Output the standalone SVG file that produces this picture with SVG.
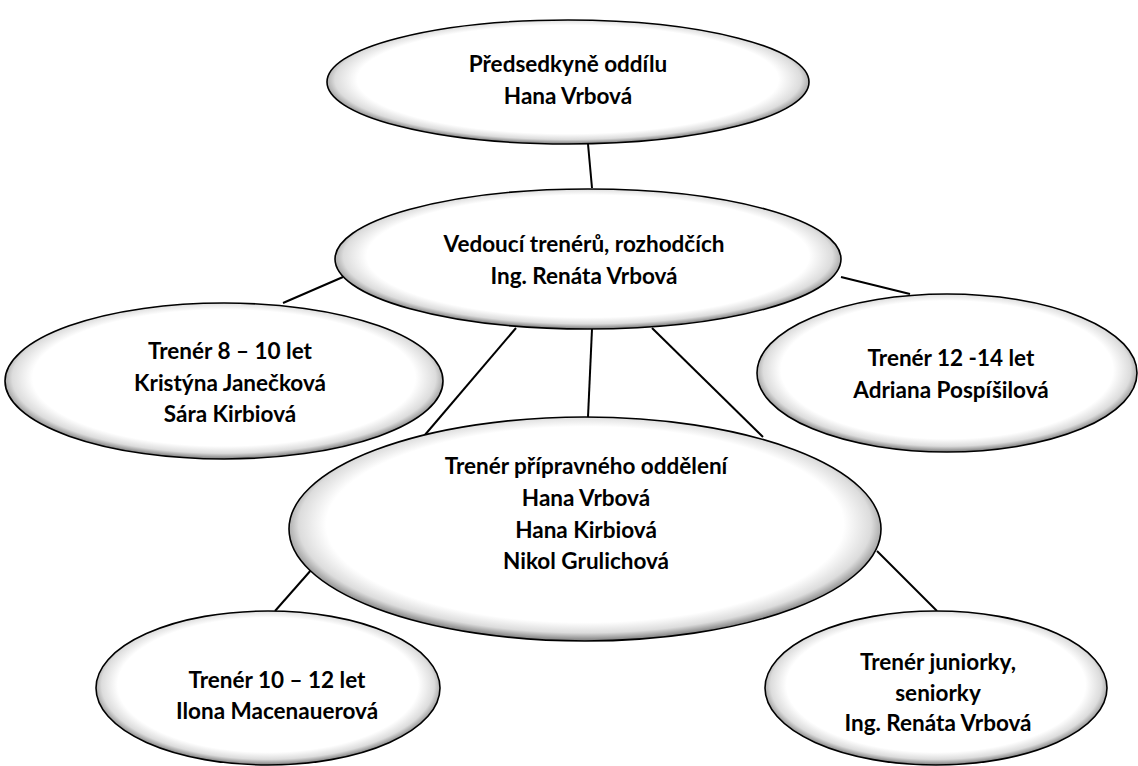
<svg xmlns="http://www.w3.org/2000/svg" width="1138" height="766" viewBox="0 0 1138 766">
<defs>
<radialGradient id="g" cx="50%" cy="48%" r="52%">
<stop offset="0" stop-color="#ffffff"/>
<stop offset="0.84" stop-color="#ffffff"/>
<stop offset="0.93" stop-color="#dcdcdc"/>
<stop offset="1" stop-color="#7a7a7a"/>
</radialGradient>
</defs>
<style>
.e{fill:url(#g);stroke:#000;stroke-width:1.6}
.c line{stroke:#000;stroke-width:2}
text{font-family:Lato,"Open Sans","Liberation Sans",sans-serif;font-weight:700;font-size:22.5px;fill:#000;text-anchor:middle}
</style>
<rect width="1138" height="766" fill="#fff"/>
<g id="connectors" class="c">
<line x1="588" y1="144" x2="592" y2="188"/>
<line x1="283" y1="303" x2="343" y2="277"/>
<line x1="841" y1="277" x2="910" y2="294"/>
<line x1="516" y1="328" x2="424" y2="436"/>
<line x1="592" y1="329" x2="588" y2="417"/>
<line x1="652" y1="328" x2="763" y2="437"/>
<line x1="312" y1="569" x2="275" y2="611"/>
<line x1="877" y1="551" x2="937" y2="611"/>
</g>
<g id="n-predsedkyne">
<ellipse class="e" cx="568" cy="82" rx="241" ry="62"/>
<text x="568" y="72">Předsedkyně oddílu</text>
<text x="568" y="104">Hana Vrbová</text>
</g>
<g id="n-vedouci">
<ellipse class="e" cx="588" cy="259" rx="253" ry="70"/>
<text x="584" y="252">Vedoucí trenérů, rozhodčích</text>
<text x="584" y="284">Ing. Renáta Vrbová</text>
</g>
<g id="n-8-10">
<ellipse class="e" cx="224" cy="381" rx="219" ry="78"/>
<text x="230" y="359">Trenér 8 – 10 let</text>
<text x="230" y="391">Kristýna Janečková</text>
<text x="230" y="422">Sára Kirbiová</text>
</g>
<g id="n-12-14">
<ellipse class="e" cx="947" cy="373" rx="190" ry="79"/>
<text x="951" y="366">Trenér 12 -14 let</text>
<text x="951" y="398">Adriana Pospíšilová</text>
</g>
<g id="n-pripravne">
<ellipse class="e" cx="585" cy="529" rx="296" ry="112"/>
<text x="586" y="474">Trenér přípravného oddělení</text>
<text x="586" y="506">Hana Vrbová</text>
<text x="586" y="538">Hana Kirbiová</text>
<text x="586" y="569">Nikol Grulichová</text>
</g>
<g id="n-10-12">
<ellipse class="e" cx="268" cy="688" rx="172" ry="77"/>
<text x="277" y="688">Trenér 10 – 12 let</text>
<text x="277" y="719">Ilona Macenauerová</text>
</g>
<g id="n-junior">
<ellipse class="e" cx="936" cy="688" rx="171" ry="77"/>
<text x="938" y="670">Trenér juniorky,</text>
<text x="938" y="701">seniorky</text>
<text x="938" y="731">Ing. Renáta Vrbová</text>
</g>
</svg>
